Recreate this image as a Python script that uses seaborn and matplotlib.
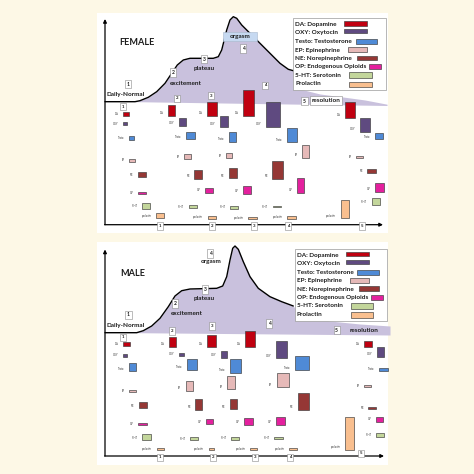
import numpy as np
import pandas as pd
import matplotlib
matplotlib.use("Agg")
import matplotlib.pyplot as plt
from matplotlib.patches import Rectangle
import seaborn as sns

sns.set_theme(style="white")
plt.rcParams['font.family'] = ['Lato', 'DejaVu Sans']

# ---------------- data ----------------
HORMONES = ["DA", "OXY", "Testo", "EP", "NE", "OP", "5-HT", "prolactin"]
LEGEND_TEXT = ["DA: Dopamine", "OXY: Oxytocin", "Testo: Testosterone", "EP: Epinephrine",
               "NE: Norepinephrine", "OP: Endogenous Opioids", "5-HT: Serotonin", "Prolactin"]
COLORS = ["#c00010", "#5f4a80", "#4f8ad6", "#e6b9b8", "#953735", "#e4209e", "#c3d69b", "#f9bf8f"]
STAGES = ["1", "2", "3", "4", "5"]

# bar sizes (hormone levels): widths and heights per stage (rows) x hormone (cols)
F_W = [[6.3, 4.0, 5.6, 6.0, 8.3, 8.3, 8.0, 8.3],
       [6.7, 7.3, 9.0, 6.4, 7.7, 8.3, 8.6, 8.3],
       [10.0, 7.7, 7.3, 6.3, 8.0, 8.3, 7.7, 8.4],
       [10.7, 14.0, 10.3, 7.0, 11.0, 7.6, 8.3, 8.7],
       [10.3, 10.0, 8.3, 6.7, 8.4, 8.7, 8.3, 8.6]]
F_H = [[4.0, 3.6, 4.0, 2.7, 5.6, 2.0, 6.0, 5.6],
       [10.7, 7.7, 7.6, 4.7, 8.7, 5.3, 3.0, 2.7],
       [14.0, 11.0, 9.4, 5.6, 10.0, 8.3, 3.3, 2.3],
       [25.7, 25.0, 14.6, 12.7, 18.0, 14.4, 1.6, 2.7],
       [16.0, 13.4, 6.0, 2.3, 3.7, 8.4, 6.7, 18.3]]
M_W = [[6.7, 4.0, 6.4, 6.7, 8.0, 8.4, 8.4, 7.6],
       [7.0, 4.7, 10.0, 7.0, 6.7, 7.3, 8.3, 5.6],
       [8.7, 6.3, 10.7, 8.0, 6.7, 8.4, 8.3, 6.7],
       [10.0, 11.0, 14.0, 12.0, 11.3, 9.0, 8.7, 8.3],
       [8.0, 7.3, 8.4, 6.7, 7.7, 7.0, 8.3, 9.0]]
M_H = [[3.7, 2.4, 8.6, 2.3, 6.0, 2.0, 6.0, 2.3],
       [10.0, 3.3, 10.7, 10.0, 11.0, 4.7, 3.6, 2.0],
       [11.7, 6.7, 13.7, 13.3, 10.3, 6.7, 3.3, 2.0],
       [16.0, 17.3, 14.3, 14.0, 17.3, 8.3, 2.0, 1.7],
       [6.0, 9.4, 2.4, 2.3, 2.3, 5.0, 3.4, 32.7]]

# bar placement (layout, pixel space): left edge and top edge
F_LEFT = [[122.7, 122.7, 128.7, 129.3, 137.7, 137.7, 142.0, 156.0],
          [168.3, 178.7, 186.0, 184.3, 194.3, 205.0, 188.7, 207.7],
          [206.7, 220.0, 228.7, 226.0, 228.7, 242.7, 230.0, 248.3],
          [243.3, 266.0, 287.0, 302.0, 272.3, 296.7, 272.7, 287.0],
          [345.0, 360.0, 375.0, 356.0, 367.3, 375.3, 371.7, 340.7]]
F_TOP = [[111.7, 121.7, 136.0, 159.0, 171.7, 192.0, 202.7, 212.7],
         [105.0, 118.3, 131.7, 154.3, 170.3, 187.7, 205.3, 216.0],
         [101.7, 116.0, 132.3, 152.7, 168.3, 185.7, 205.7, 216.7],
         [90.0, 101.7, 127.7, 145.0, 161.0, 178.3, 205.7, 216.0],
         [101.7, 118.3, 133.3, 155.7, 169.0, 183.3, 198.3, 200.0]]
M_LEFT = [[123.3, 123.3, 129.3, 129.3, 138.7, 138.3, 142.3, 156.7],
          [169.3, 179.3, 187.3, 185.7, 195.3, 206.0, 190.0, 208.7],
          [207.3, 221.0, 230.0, 227.3, 230.0, 244.3, 231.0, 250.0],
          [245.0, 275.7, 295.0, 276.7, 297.7, 276.0, 274.0, 289.0],
          [364.3, 376.7, 379.3, 364.3, 368.3, 375.7, 376.0, 345.0]]
M_TOP = [[342.3, 354.3, 362.7, 390.0, 402.3, 423.3, 434.3, 447.7],
         [336.7, 352.7, 359.3, 380.7, 399.0, 419.3, 436.7, 448.0],
         [335.0, 351.3, 359.0, 376.0, 399.0, 418.3, 436.7, 448.0],
         [330.7, 341.0, 356.0, 373.3, 392.7, 416.7, 436.7, 448.3],
         [340.7, 347.3, 368.3, 385.0, 406.7, 416.7, 433.3, 417.3]]

# response curves (pixel space)
F_CURVE_X = [105, 135, 140, 148.3, 156.7, 165, 171.7, 177.3, 183.3, 190, 213.3, 218.3, 221.7,
             226.7, 230, 233.3, 236.7, 241.7, 250, 260, 270, 280, 288.3, 293.3]
F_CURVE_Y = [101.7, 101.7, 100.7, 97.3, 91.7, 83.3, 73.3, 65, 60, 58.3, 58.3, 56.7, 50,
             30, 20, 16.7, 18.3, 25, 33.3, 43.3, 53.3, 63.3, 69.3, 70.7]
F_TAIL_X = [300, 320, 343, 365, 387]
F_TAIL_Y = [89, 94, 97, 100, 104.2]
M_CURVE_X = [105, 136.7, 143.3, 151.7, 160, 168.3, 175, 181.7, 190, 216.7, 222.7, 226.7, 230,
             232.7, 235, 238.3, 243.3, 250, 258.3, 270, 281.7, 293.3]
M_CURVE_Y = [332.7, 332.7, 330.7, 326, 318.3, 306.7, 296, 290.7, 289, 288.3, 286, 276.7, 260,
             248.3, 246, 249.3, 261.7, 276.7, 288.3, 296.7, 301.7, 306]
M_TAIL_X = [300, 330, 360, 390]
M_TAIL_Y = [315, 321, 324, 326]

# ---------------- drawing ----------------
CREAM = "#fdf8e6"
FILL = "#c9c1dd"
EDGE = "#3a3a3a"
TXT = "#1c1c1c"
STAGE_FS = 4.6

fig = plt.figure(figsize=(4.74, 4.74), dpi=100)
fig.patch.set_facecolor(CREAM)
ax = fig.add_axes([0, 0, 1, 1])
ax.set_xlim(0, 474)
ax.set_ylim(474, 0)
ax.axis("off")
ax.set_facecolor(CREAM)


def numbox(x, y, s, fs=3.6, fc="white"):
    ax.text(x, y, s, ha="center", va="center", fontsize=fs, fontweight="bold", color=TXT,
            bbox=dict(boxstyle="square,pad=0.35", fc=fc, ec="#8a8a8a", lw=0.4), zorder=6)


def stage_text(x, y, s, **kw):
    ax.text(x, y, s, ha="center", va="center", fontsize=STAGE_FS, fontweight="bold",
            color=TXT, zorder=6, **kw)


def panel(top, bottom, y0, x_axis_end, y_axis_top, cx, cy, tx, ty, base_l, base_r,
          W, H, LEFT, TOP, leg_dx, leg_dy):
    ax.add_patch(Rectangle((97, top), 291, bottom - top, fc="white", ec="none", zorder=0))
    # area under curve
    xs = np.array(cx + tx, dtype=float)
    ys = np.array(cy + ty, dtype=float)
    base = np.interp(xs, [105, 137, xs[-1]], [cy[0], cy[0], base_r])
    ax.fill_between(xs, ys, base, color=FILL, lw=0, zorder=1)
    sns.lineplot(x=cx, y=cy, sort=False, ax=ax, color="black", lw=1.0, zorder=3,
                 estimator=None)
    # axes
    ax.annotate("", xy=(105, y_axis_top), xytext=(105, y0),
                arrowprops=dict(arrowstyle="-|>", lw=0.9, color="black", mutation_scale=5,
                                shrinkA=0, shrinkB=0), zorder=4)
    ax.annotate("", xy=(x_axis_end, y0), xytext=(104.6, y0),
                arrowprops=dict(arrowstyle="-|>", lw=0.9, color="black", mutation_scale=5,
                                shrinkA=0, shrinkB=0), zorder=4)
    # hormone bars
    for g in range(5):
        lefts = np.array(LEFT[g]); widths = np.array(W[g])
        tops = np.array(TOP[g]); heights = np.array(H[g])
        ax.bar(lefts + widths / 2, heights, width=widths, bottom=tops, color=COLORS,
               edgecolor=EDGE, linewidth=0.45, zorder=5)
        for k, name in enumerate(HORMONES):
            ly = tops[k] + heights[k] - min(heights[k] / 2, 2.6)
            ax.text(lefts[k] - 4.5, ly, name, ha="right", va="center", fontsize=1.9,
                    color="#333333", zorder=5)
    # legend
    lx0, ly0 = 293.3 + leg_dx, 18.3 + leg_dy
    ax.add_patch(Rectangle((lx0, ly0), 92.5, 71.5, fc="white", ec="#9a9a9a", lw=0.5, zorder=6))
    sw_l = [344.3, 344.3, 356.0, 348.3, 357.3, 369.3, 349.3, 349.3]
    sw_r = [367.3, 367.3, 377.3, 367.3, 377.3, 381.3, 371.7, 371.7]
    sw_c = [23.4, 31.2, 41.7, 49.8, 57.9, 66.7, 75.3, 84.5]
    sw_h = [4.5, 4.3, 4.7, 5.0, 4.3, 4.7, 6.0, 5.6]
    txt_y = [24.6, 32.8, 41.5, 50.0, 58.4, 66.8, 75.2, 83.8]
    for k, lab in enumerate(LEGEND_TEXT):
        ax.text(295.3 + leg_dx, txt_y[k] + leg_dy, lab, ha="left", va="center",
                fontsize=4.6, fontweight="bold", color=TXT, zorder=7)
    sl = np.array(sw_l) + leg_dx
    sr = np.array(sw_r) + leg_dx
    sy = np.array(sw_c) + leg_dy - np.array(sw_h) / 2
    ax.bar((sl + sr) / 2, sw_h, width=sr - sl, bottom=sy, color=COLORS, edgecolor=EDGE,
           linewidth=0.45, zorder=7)


# FEMALE
panel(12.7, 233, 224.7, 383, 19, F_CURVE_X, F_CURVE_Y, F_TAIL_X, F_TAIL_Y, 101.7, 105.5,
      F_W, F_H, F_LEFT, F_TOP, 0, 0)
ax.text(137, 42, "FEMALE", ha="center", va="center", fontsize=6.6, fontweight="bold", color=TXT)
numbox(128, 84, "1"); stage_text(125.5, 94, "Daily-Normal")
numbox(173.3, 72.7, "2"); stage_text(186, 83, "excitement")
numbox(204, 59, "3"); stage_text(204, 68.3, "plateau")
ax.add_patch(Rectangle((223.3, 31.7), 34, 8.8, fc="#c6d9f1", ec="#a8b8cc", lw=0.4, zorder=5))
stage_text(240.3, 36.3, "orgasm")
numbox(243, 48.3, "4")
numbox(304.5, 101, "5")
stage_text(326, 100.5, "resolution",
           bbox=dict(boxstyle="square,pad=0.3", fc="white", ec="#8a8a8a", lw=0.4))
for (x, y, s) in [(122.7, 106.7, "1"), (177, 98.3, "2"), (210.7, 95.7, "3"), (265, 85.3, "4")]:
    numbox(x, y, s, fs=3.2)
for x, s in zip([159.7, 212.3, 254, 288.3, 362.3], STAGES):
    numbox(x, 226, s, fs=3.2)

# MALE
panel(241.7, 465, 456, 384, 249.5, M_CURVE_X, M_CURVE_Y, M_TAIL_X, M_TAIL_Y, 332.7, 335,
      M_W, M_H, M_LEFT, M_TOP, 1.5, 230.7)
ax.text(132.3, 273.3, "MALE", ha="center", va="center", fontsize=6.6, fontweight="bold", color=TXT)
numbox(128.3, 315, "1"); stage_text(126, 325, "Daily-Normal")
numbox(175, 303.3, "2"); stage_text(186.7, 313.7, "excitement")
numbox(205, 289.3, "3"); stage_text(204.3, 298.7, "plateau")
numbox(210, 253.3, "4"); stage_text(211, 262, "orgasm")
numbox(269.3, 323.3, "4")
numbox(336.7, 330, "5")
stage_text(364.3, 330.7, "resolution")
for (x, y, s) in [(123.3, 337.3, "1"), (172.3, 331, "2"), (212, 326, "3")]:
    numbox(x, y, s, fs=3.2)
for x, y, s in zip([160, 213.3, 255, 290, 360.7], [457.3, 457.3, 457.3, 457.3, 453.3], STAGES):
    numbox(x, y, s, fs=3.2)

fig.savefig("out.png", dpi=100, facecolor=CREAM)
